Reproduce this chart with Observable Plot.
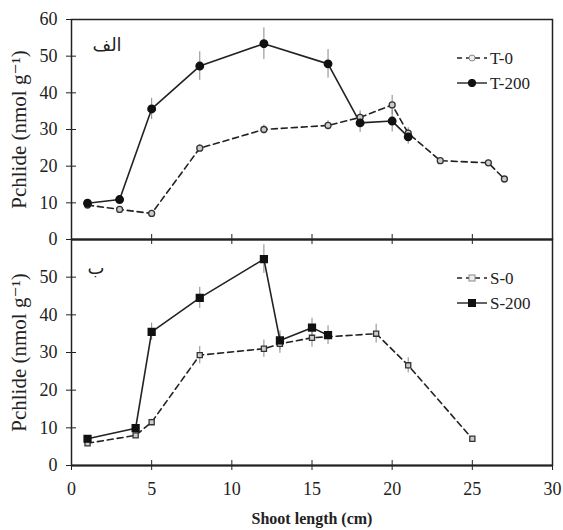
<!DOCTYPE html>
<html><head><meta charset="utf-8">
<script src="https://cdn.jsdelivr.net/npm/d3@7"></script>
<script src="https://cdn.jsdelivr.net/npm/@observablehq/plot@0.6"></script>
<style>
body{margin:0;background:#fff;}
#wrap{position:relative;width:563px;height:530px;font-family:"Liberation Serif","Times New Roman",Times,"DejaVu Serif",serif;color:#222;}
#wrap svg{font-family:"Liberation Serif","Times New Roman",Times,"DejaVu Serif",serif;}
</style></head>
<body><div id="wrap"></div>
<script>
// Panel A (الف)
const xT0 = [1,3,5,8,12,16,18,20,21,23,26,27];
const yT0 = [9.4,8.2,7.1,24.9,30.0,31.1,33.3,36.7,29.0,21.5,20.9,16.5];
const eT0 = [0.8,0.6,0.6,1.0,1.2,1.3,1.8,2.6,1.5,0.7,0.8,0.6];
const xT200 = [1,3,5,8,12,16,18,20,21];
const yT200 = [9.9,10.9,35.6,47.3,53.4,47.9,31.8,32.3,28.0];
const eT200 = [1.0,0.8,2.9,3.9,4.3,3.9,2.6,3.0,2.0];
// Panel B (ب)
const xS0 = [1,4,5,8,12,13,15,19,21,25];
const yS0 = [5.9,8.0,11.5,29.3,31.0,32.3,33.9,35.0,26.6,7.1];
const eS0 = [0.6,0.6,0.8,2.3,2.3,2.5,2.5,2.5,2.0,0.6];
const xS200 = [1,4,5,8,12,13,15,16];
const yS200 = [7.1,9.9,35.5,44.5,54.8,33.2,36.6,34.6];
const eS200 = [0.8,0.8,2.3,2.8,3.8,2.5,2.5,2.5];

const xTicks = [0,5,10,15,20,25,30];
const yTicksTop = [0,10,20,30,40,50,60];
const yTicksBot = [0,10,20,30,40,50];
const yLabel = "Pchlide (nmol g\u207B\u00B9)";
const xLabel = "Shoot length (cm)";
const panelA = "الف", panelB = "ب";
const legTop = ["T-0","T-200"], legBot = ["S-0","S-200"];

const rows = (xs, ys, es) => xs.map((x,i)=>({x, y: ys[i], e: es[i]}));
const dT0 = rows(xT0,yT0,eT0), dT200 = rows(xT200,yT200,eT200);
const dS0 = rows(xS0,yS0,eS0), dS200 = rows(xS200,yS200,eS200);

const ink = "#222";
const serif = '"Liberation Serif","Times New Roman",Times,"DejaVu Serif",serif';
function panel({open, filled, symbol, yTicks, label, top, height, mt, mb, bottom}) {
  const sq = symbol === "square";
  const marks = [
    Plot.frame({stroke: ink, strokeWidth: 1.5}),
    Plot.axisY({ticks: yTicks, tickSize: 5, tickPadding: 9, label: null, fontSize: 18}),
    Plot.axisY({ticks: yTicks, tickSize: -5, tickFormat: () => "", label: null}),
    Plot.axisX({ticks: xTicks, tickSize: 5, tickPadding: 12, label: null, fontSize: 18,
      tickFormat: bottom ? d => d : () => ""}),
    Plot.axisX({ticks: xTicks, tickSize: -5, tickFormat: () => "", label: null}),
    Plot.ruleY([0], {stroke: ink, strokeWidth: 2}),
    Plot.ruleX(open, {x: "x", y1: d => d.y - d.e, y2: d => d.y + d.e, stroke: "#888", strokeWidth: 1}),
    Plot.ruleX(filled, {x: "x", y1: d => d.y - d.e, y2: d => d.y + d.e, stroke: "#888", strokeWidth: 1}),
    Plot.line(open, {x: "x", y: "y", stroke: ink, strokeWidth: 1.6, strokeDasharray: "6,4"}),
    Plot.line(filled, {x: "x", y: "y", stroke: ink, strokeWidth: 1.6}),
    Plot.dot(open, {x: "x", y: "y", symbol, r: sq ? 2.9 : 3, fill: "#ccc", stroke: "#333", strokeWidth: 1.3}),
    Plot.dot(filled, {x: "x", y: "y", symbol, r: sq ? 3.8 : 3.7, fill: "#111", stroke: "#111"}),
    Plot.text([yLabel], {text: d => d, frameAnchor: "left", textAnchor: "middle", lineAnchor: "middle", rotate: -90, dx: -52, fontSize: 21, fill: ink}),
    Plot.text([label], {text: d => d, frameAnchor: "top-left", textAnchor: "start", lineAnchor: "middle", dx: bottom ? 16 : 21, dy: bottom ? 29 : 26, fontSize: 18, fill: ink, fontFamily: "DejaVu Sans"})
  ];
  if (bottom) marks.push(Plot.text([xLabel], {text: d => d, frameAnchor: "bottom", lineAnchor: "middle", dy: 53, fontSize: 16, fontWeight: "bold", fill: ink}));
  const p = Plot.plot({
    width: 563, height, marginLeft: 71, marginRight: 11, marginTop: mt, marginBottom: mb,
    x: {domain: [0, 30]}, y: {domain: [0, 60]},
    style: {fontFamily: serif, fontSize: "18px", color: ink, background: "transparent", overflow: "visible"},
    marks
  });
  p.style.position = "absolute";
  p.style.left = "0px";
  p.style.top = top + "px";
  return p;
}
const wrap = document.getElementById("wrap");
wrap.appendChild(panel({open: dT0, filled: dT200, symbol: "circle", yTicks: yTicksTop, label: panelA, top: 0, height: 249, mt: 19, mb: 10, bottom: false}));
wrap.appendChild(panel({open: dS0, filled: dS200, symbol: "square", yTicks: yTicksBot, label: panelB, top: 229, height: 301, mt: 10, mb: 65, bottom: true}));

// legends (inside panels)
function legend(names, symbol, y0) {
  const svg = d3.create("svg").attr("width", 563).attr("height", 530)
    .style("position", "absolute").style("left", "0px").style("top", "0px");
  names.forEach((n, i) => {
    const y = y0 + i * 25, g = svg.append("g");
    g.append("line").attr("x1", 457).attr("x2", 487).attr("y1", y).attr("y2", y)
      .attr("stroke", ink).attr("stroke-width", 1.4).attr("stroke-dasharray", i === 0 ? "5,4" : null);
    const filled = i === 1;
    if (symbol === "circle") g.append("circle").attr("cx", 472).attr("cy", y).attr("r", filled ? 3.7 : 3)
      .attr("fill", filled ? "#111" : "#eee").attr("stroke", filled ? "#111" : "#888");
    else { const s = filled ? 7 : 6; g.append("rect").attr("x", 472 - s/2).attr("y", y - s/2).attr("width", s).attr("height", s)
      .attr("fill", filled ? "#111" : "#eee").attr("stroke", filled ? "#111" : "#888"); }
    g.append("text").attr("x", 490).attr("y", y).attr("dy", "0.35em").attr("font-size", 17)
      .style("font-family", serif).attr("fill", ink).text(n);
  });
  wrap.appendChild(svg.node());
}
legend(legTop, "circle", 58);
legend(legBot, "square", 278);
</script></body></html>
